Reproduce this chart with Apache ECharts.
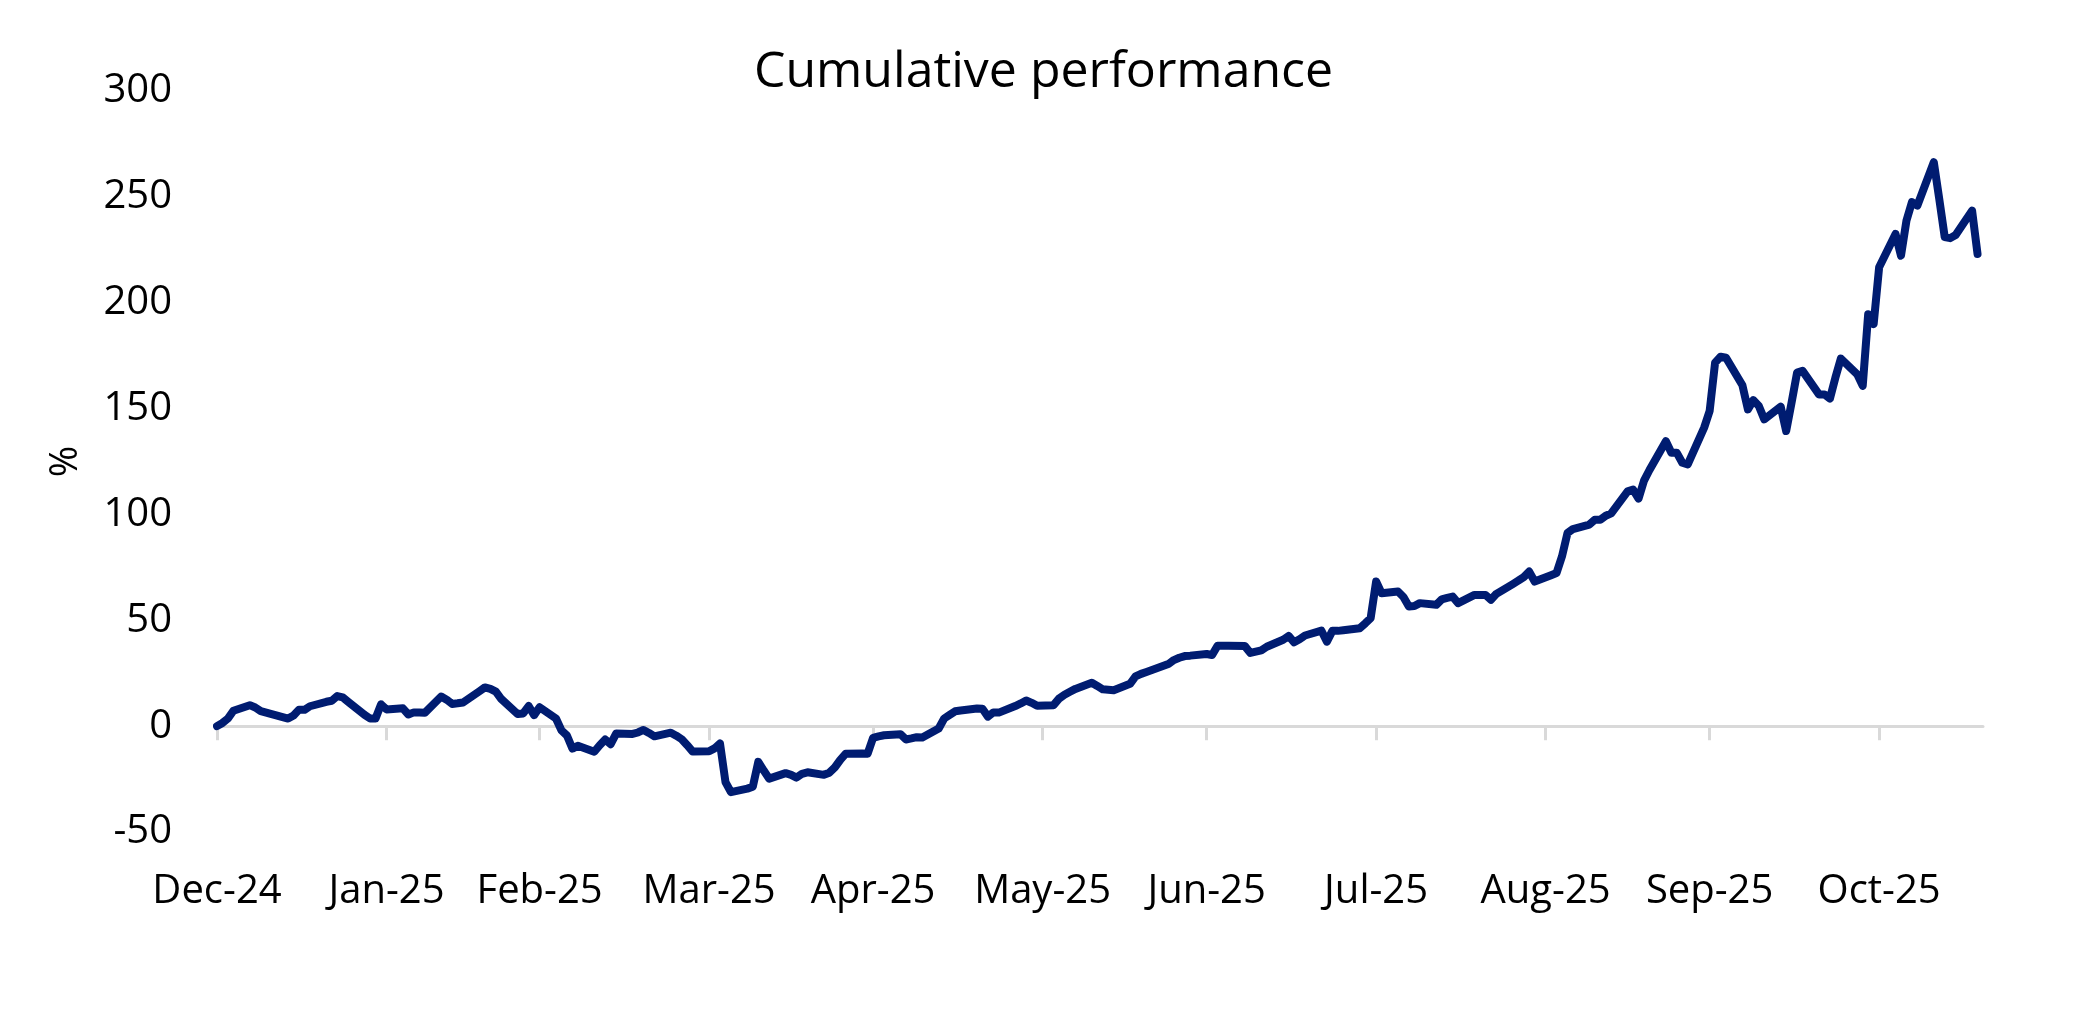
<!DOCTYPE html>
<html>
	<head>
		<title>Cumulative performance</title>
		<meta charset="UTF-8">
		<script src="https://cdn.jsdelivr.net/npm/echarts@6/dist/echarts.min.js"></script>
		<style>
			html, body { margin: 0; padding: 0; background: #fff; }
			#chart { width: 2087px; height: 1021px; }
		</style>
	</head>
	<body>
		<div id="chart"></div>
		<script type="text/javascript">
			// first trading day of the series (0 %)
			var startDate = '2024-12-31';
			var endDate = '2025-11-19';

			// cumulative return, %, one value per weekday from startDate
			var values = [
				0, 1.5, 3.6, 7.3,
				9.9, 8.8, 7.1, 6.4, 5.7,
				3.6, 5.0, 7.8, 7.7, 9.4,
				11.5, 12.0, 14.2, 13.6, 11.5,
				5.3, 3.6, 3.6, 10.3, 7.9,
				8.4, 5.5, 6.5, 6.4, 6.3,
				14.0, 12.5, 10.5, 10.8, 11.2,
				16.5, 18.3, 17.6, 16.3, 12.8,
				5.7, 6.0, 9.5, 5.2, 8.9,
				3.6, -2.0, -4.4, -10.6, -9.3,
				-12.1, -9.0, -6.3, -8.5, -3.5,
				-3.7, -3.0, -1.8, -3.2, -4.8,
				-3.1, -4.5, -6.2, -9.0, -12.0,
				-11.9, -10.5, -8.2, -26.4, -31.2,
				-29.5, -28.6, -16.9, -21.0, -24.8,
				-22.2, -23.0, -24.3, -22.5, -21.8,
				-23.0, -22.0, -19.5, -15.9, -13.0,
				-12.9, -13.0, -5.5, -4.8, -4.3,
				-3.8, -6.3, -5.8, -5.2, -5.4,
				-1.1, 3.6, 5.3, 7.0, 7.4,
				8.3, 8.2, 4.5, 6.5, 6.4,
				9.5, 10.7, 12.1, 11.0, 9.6,
				9.9, 13.0, 14.8, 16.2, 17.6,
				20.5, 19.0, 17.4, 17.2, 17.0,
				20.0, 23.5, 24.7, 25.6, 26.5,
				29.3, 31.2, 32.3, 33.1, 33.3,
				34.1, 33.6, 38.0, 38.0, 38.0,
				37.8, 34.6, 35.2, 35.8, 37.5,
				40.8, 42.6, 39.6, 41.0, 42.8,
				45.1, 39.9, 45.0, 45.0, 45.3,
				46.2, 48.5, 51.0, 68.3, 62.8,
				63.6, 61.0, 56.5, 56.7, 58.1,
				57.3, 59.9, 60.6, 61.2, 58.1,
				62.0, 62.0, 62.0, 59.7, 62.5,
				67.1, 68.7, 70.4, 73.0, 68.3,
				71.3, 72.3, 80.2, 91.2, 93.1,
				95.2, 97.5, 97.5, 99.4, 100.5,
				110.9, 111.7, 107.5, 116.0, 121.0,
				134.6, 129.1, 129.1, 124.4, 123.6,
				141.0, 148.8, 171.7, 174.5, 174.0,
				161.0, 149.6, 154.0, 151.2, 144.9,
				150.9, 139.4, 153.0, 167.0, 167.8,
				156.7, 156.7, 154.7, 164.6, 173.6,
				166.2, 160.7, 194.6, 189.9, 216.7,
				232.5, 222.2, 238.8, 247.5, 245.9,
				266.4, 249.0, 231.0, 230.5, 232.0,
				243.5, 223.0
			];

			// x-axis ticks sit on month ends
			var monthLabels = ['Dec-24', 'Jan-25', 'Feb-25', 'Mar-25', 'Apr-25', 'May-25',
				'Jun-25', 'Jul-25', 'Aug-25', 'Sep-25', 'Oct-25'];
			var monthEnds = ['2024-12-31', '2025-01-31', '2025-02-28', '2025-03-31', '2025-04-30',
				'2025-05-31', '2025-06-30', '2025-07-31', '2025-08-31', '2025-09-30', '2025-10-31'];

			var yTicks = [-50, 0, 50, 100, 150, 200, 250, 300];

			var DAY = 86400000;
			var t0 = Date.parse(startDate);
			function dayOf(s) {
				return Math.round((Date.parse(s) - t0) / DAY);
			}

			// weekday offsets (days since startDate) for each value
			var tradingDays = [];
			for (var d = 0; tradingDays.length < values.length; d++) {
				var wd = new Date(t0 + d * DAY).getUTCDay();
				if (wd !== 0 && wd !== 6) tradingDays.push(d);
			}
			var seriesData = values.map(function (v, i) { return [tradingDays[i], v]; });
			var tickDays = monthEnds.map(dayOf);

			var font = 'Open Sans';
			var chart = echarts.init(document.getElementById('chart'), null, { renderer: 'canvas' });
			chart.setOption({
				animation: false,
				backgroundColor: '#ffffff',
				title: {
					text: 'Cumulative performance',
					left: 'center',
					top: 43,
					textStyle: { fontFamily: font, fontSize: 50, fontWeight: 'normal', color: '#000' }
				},
				grid: { left: 217, right: 104, top: 91, bottom: 189, outerBoundsMode: 'none' },
				xAxis: {
					type: 'value',
					min: 0,
					max: dayOf(endDate),
					splitLine: { show: false },
					axisLine: { show: true, onZero: true, lineStyle: { color: '#d9d9d9', width: 3 } },
					axisTick: {
						show: true,
						customValues: tickDays,
						length: 14,
						lineStyle: { color: '#d9d9d9', width: 3 }
					},
					axisLabel: {
						customValues: tickDays,
						margin: 40,
						fontFamily: font,
						fontSize: 40,
						color: '#000',
						formatter: function (v) {
							var k = tickDays.indexOf(Math.round(v));
							return k >= 0 ? monthLabels[k] : '';
						}
					}
				},
				yAxis: {
					type: 'value',
					min: yTicks[0],
					max: yTicks[yTicks.length - 1],
					interval: 50,
					name: '%',
					nameLocation: 'middle',
					nameGap: 132,
					nameTextStyle: { fontFamily: font, fontSize: 38, color: '#000' },
					axisLine: { show: false },
					axisTick: { show: false },
					splitLine: { show: false },
					axisLabel: { margin: 45, fontFamily: font, fontSize: 40, color: '#000' }
				},
				series: [{
					type: 'line',
					data: seriesData,
					showSymbol: false,
					lineStyle: { color: '#001c71', width: 8, join: 'round', cap: 'round' }
				}]
			});
		</script>
	</body>
</html>
